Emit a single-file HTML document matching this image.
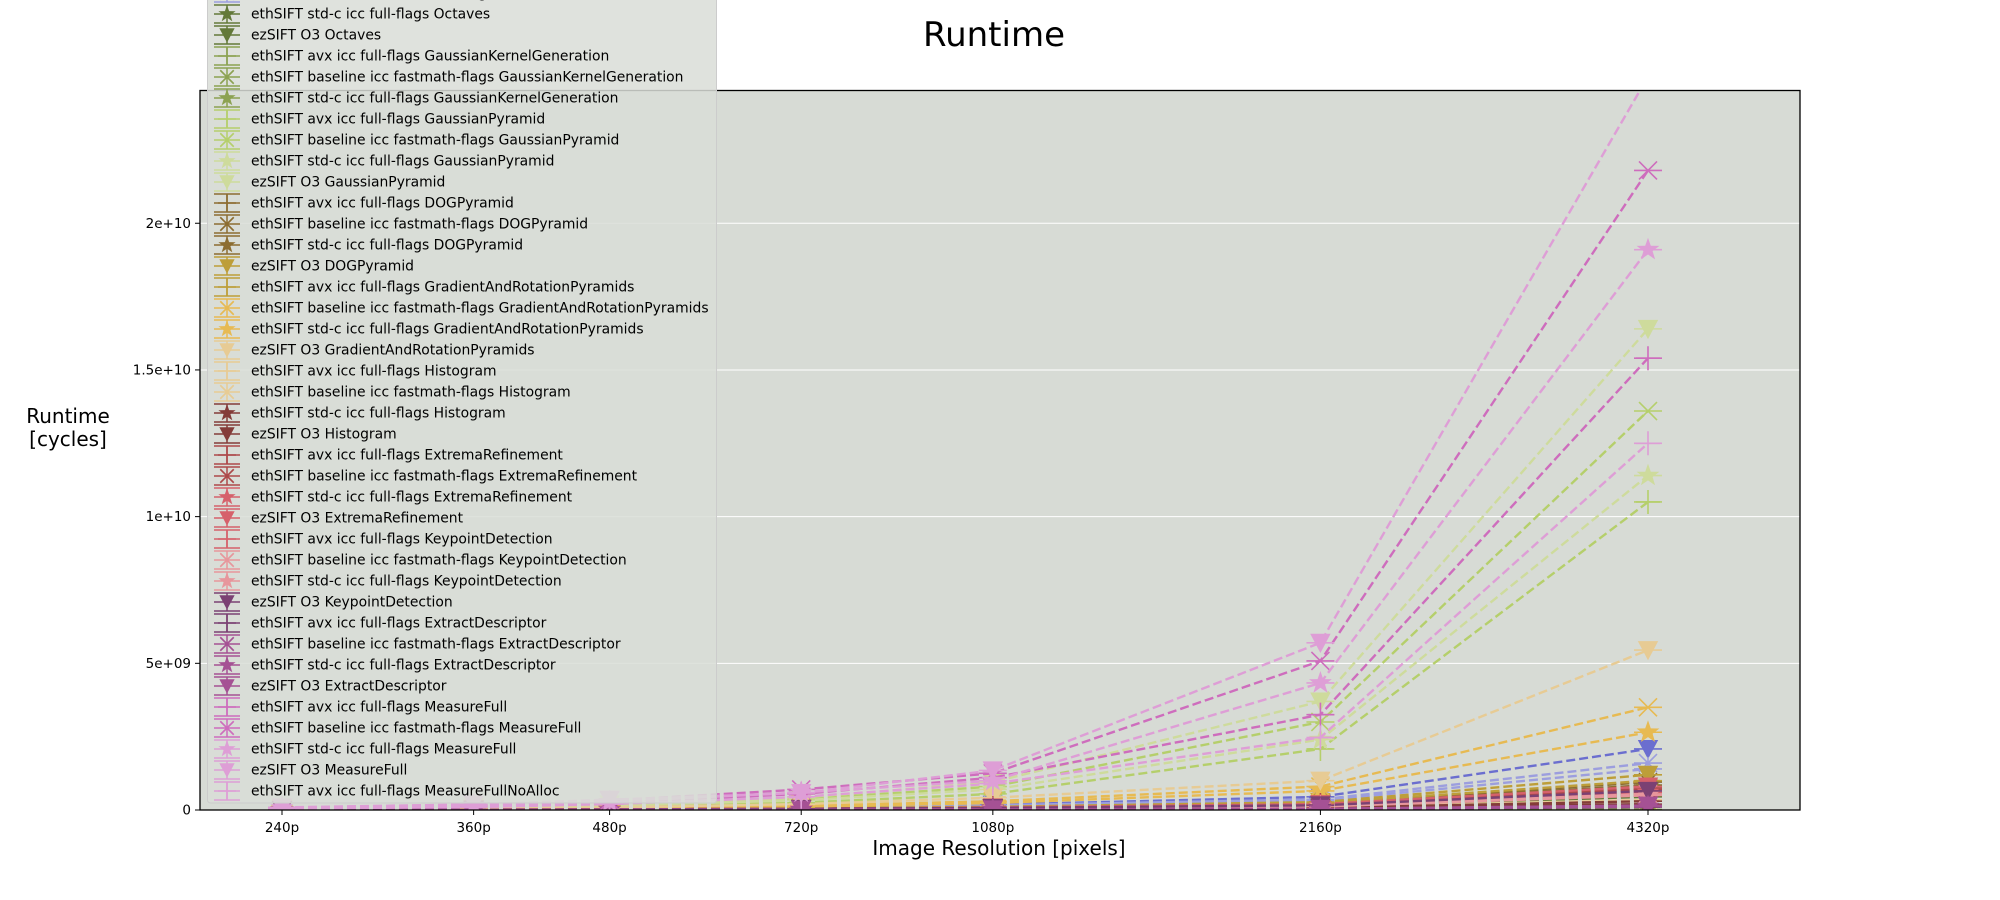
<!DOCTYPE html>
<html><head><meta charset="utf-8"><style>
body{margin:0;background:#fff;}
svg{display:block;font-family:"DejaVu Sans","Liberation Sans",sans-serif;}
</style></head><body>
<svg id="chart" width="2000" height="900" xmlns="http://www.w3.org/2000/svg">
<defs><clipPath id="plotclip"><rect x="200" y="90.5" width="1600" height="719.5"/></clipPath></defs>
<text x="994" y="46" font-size="34" text-anchor="middle" fill="#000">Runtime</text>
<rect x="200" y="90.5" width="1600" height="719.5" fill="#d7dbd5" stroke="none"/>
<g id="grid"></g>
<g id="series" clip-path="url(#plotclip)"></g>
<rect x="200" y="90.5" width="1600" height="719.5" fill="none" stroke="#000" stroke-width="1.3"/>
<g id="yticks"></g>
<g id="xticks"></g>
<text x="999" y="855" font-size="20" text-anchor="middle">Image Resolution [pixels]</text>
<text x="68" y="423" font-size="20" text-anchor="middle">Runtime</text>
<text x="68" y="446" font-size="20" text-anchor="middle">[cycles]</text>
<g id="legend"></g>
</svg>
<script>
const categories = [240, 360, 480, 720, 1080, 2160, 4320];
const categoryLabels = ["240p","360p","480p","720p","1080p","2160p","4320p"];
const yTicks = [0, 5e9, 1e10, 1.5e10, 2e10];
const yTickLabels = ["0","5e+09","1e+10","1.5e+10","2e+10"];
const seriesNames = [
"ezSIFT O3 Downscale",
"ethSIFT avx icc full-flags Octaves",
"ethSIFT baseline icc fastmath-flags Octaves",
"ethSIFT std-c icc full-flags Octaves",
"ezSIFT O3 Octaves",
"ethSIFT avx icc full-flags GaussianKernelGeneration",
"ethSIFT baseline icc fastmath-flags GaussianKernelGeneration",
"ethSIFT std-c icc full-flags GaussianKernelGeneration",
"ethSIFT avx icc full-flags GaussianPyramid",
"ethSIFT baseline icc fastmath-flags GaussianPyramid",
"ethSIFT std-c icc full-flags GaussianPyramid",
"ezSIFT O3 GaussianPyramid",
"ethSIFT avx icc full-flags DOGPyramid",
"ethSIFT baseline icc fastmath-flags DOGPyramid",
"ethSIFT std-c icc full-flags DOGPyramid",
"ezSIFT O3 DOGPyramid",
"ethSIFT avx icc full-flags GradientAndRotationPyramids",
"ethSIFT baseline icc fastmath-flags GradientAndRotationPyramids",
"ethSIFT std-c icc full-flags GradientAndRotationPyramids",
"ezSIFT O3 GradientAndRotationPyramids",
"ethSIFT avx icc full-flags Histogram",
"ethSIFT baseline icc fastmath-flags Histogram",
"ethSIFT std-c icc full-flags Histogram",
"ezSIFT O3 Histogram",
"ethSIFT avx icc full-flags ExtremaRefinement",
"ethSIFT baseline icc fastmath-flags ExtremaRefinement",
"ethSIFT std-c icc full-flags ExtremaRefinement",
"ezSIFT O3 ExtremaRefinement",
"ethSIFT avx icc full-flags KeypointDetection",
"ethSIFT baseline icc fastmath-flags KeypointDetection",
"ethSIFT std-c icc full-flags KeypointDetection",
"ezSIFT O3 KeypointDetection",
"ethSIFT avx icc full-flags ExtractDescriptor",
"ethSIFT baseline icc fastmath-flags ExtractDescriptor",
"ethSIFT std-c icc full-flags ExtractDescriptor",
"ezSIFT O3 ExtractDescriptor",
"ethSIFT avx icc full-flags MeasureFull",
"ethSIFT baseline icc fastmath-flags MeasureFull",
"ethSIFT std-c icc full-flags MeasureFull",
"ezSIFT O3 MeasureFull",
"ethSIFT avx icc full-flags MeasureFullNoAlloc"
];
const seriesColors = ["#6b6ecf","#9c9ede","#9c9ede","#637939","#637939","#8ca252","#8ca252","#8ca252",
"#b5cf6b","#b5cf6b","#cedb9c","#cedb9c","#8c6d31","#8c6d31","#8c6d31","#bd9e39",
"#bd9e39","#e7ba52","#e7ba52","#e7cb94","#e7cb94","#e7cb94","#843c39","#843c39",
"#ad494a","#ad494a","#d6616b","#d6616b","#d6616b","#e7969c","#e7969c","#7b4173",
"#7b4173","#a55194","#a55194","#a55194","#ce6dbd","#ce6dbd","#de9ed6","#de9ed6","#de9ed6"];
const seriesMarkers = ["v","+","x","*","v","+","x","*","+","x","*","v","+","x","*","v","+","x","*","v",
"+","x","*","v","+","x","*","v","+","x","*","v","+","x","*","v","+","x","*","v","+"];
// values in units of 1e9 cycles, per category
const v00 = [0.01,0.02,0.04,0.08,0.18,0.45,2.08];
const v01 = [0.01,0.02,0.03,0.07,0.14,0.32,1.40];
const v02 = [0.01,0.02,0.04,0.08,0.16,0.36,1.60];
const v03 = [0.00,0.01,0.01,0.03,0.06,0.12,0.45];
const v04 = [0.00,0.01,0.02,0.04,0.07,0.15,0.55];
const v05 = [0.00,0.00,0.00,0.00,0.00,0.00,0.01];
const v06 = [0.00,0.00,0.00,0.00,0.00,0.00,0.01];
const v07 = [0.00,0.00,0.00,0.00,0.00,0.00,0.01];
const v08 = [0.03,0.06,0.12,0.25,0.55,2.08,10.5];
const v09 = [0.04,0.09,0.16,0.36,0.80,3.00,13.6];
const v10 = [0.04,0.08,0.15,0.33,0.70,2.40,11.4];
const v11 = [0.05,0.10,0.19,0.42,0.95,3.70,16.4];
const v12 = [0.00,0.01,0.02,0.04,0.08,0.20,0.85];
const v13 = [0.00,0.01,0.02,0.05,0.09,0.22,0.95];
const v14 = [0.00,0.01,0.02,0.04,0.07,0.18,0.80];
const v15 = [0.01,0.01,0.03,0.06,0.11,0.27,1.20];
const v16 = [0.00,0.01,0.02,0.05,0.10,0.24,1.00];
const v17 = [0.02,0.04,0.06,0.14,0.30,0.80,3.50];
const v18 = [0.02,0.03,0.05,0.11,0.24,0.65,2.65];
const v19 = [0.03,0.05,0.09,0.20,0.42,1.00,5.45];
const v20 = [0.00,0.01,0.01,0.03,0.05,0.08,0.30];
const v21 = [0.00,0.01,0.01,0.03,0.06,0.09,0.35];
const v22 = [0.00,0.00,0.01,0.02,0.04,0.06,0.20];
const v23 = [0.00,0.01,0.01,0.03,0.05,0.08,0.30];
const v24 = [0.00,0.01,0.02,0.04,0.07,0.17,0.70];
const v25 = [0.00,0.01,0.02,0.04,0.08,0.18,0.75];
const v26 = [0.00,0.01,0.01,0.03,0.06,0.15,0.60];
const v27 = [0.01,0.01,0.02,0.04,0.09,0.20,0.80];
const v28 = [0.00,0.01,0.01,0.03,0.05,0.12,0.50];
const v29 = [0.00,0.01,0.01,0.03,0.06,0.13,0.55];
const v30 = [0.00,0.01,0.01,0.03,0.05,0.12,0.50];
const v31 = [0.00,0.01,0.02,0.04,0.07,0.16,0.65];
const v32 = [0.00,0.00,0.00,0.01,0.01,0.03,0.10];
const v33 = [0.00,0.00,0.00,0.01,0.02,0.04,0.15];
const v34 = [0.00,0.00,0.00,0.01,0.02,0.03,0.12];
const v35 = [0.00,0.00,0.01,0.01,0.02,0.04,0.15];
const v36 = [0.06,0.13,0.25,0.55,1.10,3.25,15.4];
const v37 = [0.08,0.17,0.32,0.70,1.25,5.08,21.8];
const v38 = [0.07,0.15,0.28,0.60,1.00,4.33,19.1];
const v39 = [0.09,0.19,0.35,0.58,1.35,5.70,25.0];
const v40 = [0.05,0.10,0.20,0.45,0.90,2.47,12.5];
const seriesValues = [v00,v01,v02,v03,v04,v05,v06,v07,v08,v09,v10,v11,v12,v13,v14,v15,v16,v17,v18,v19,v20,
v21,v22,v23,v24,v25,v26,v27,v28,v29,v30,v31,v32,v33,v34,v35,v36,v37,v38,v39,v40];

const NS = "http://www.w3.org/2000/svg";
const X0 = 200, X1 = 1800, Y0 = 810, YT = 90.5, YMAX = 2.4525e10;
const xLeft = 282, xRight = 1648;
function xScale(c){ return xLeft + (xRight - xLeft) * Math.log(c / categories[0]) / Math.log(categories[categories.length-1] / categories[0]); }
function yScale(v){ return Y0 - (Y0 - YT) * v / YMAX; }
function mk(tag, attrs, parent){ const e = document.createElementNS(NS, tag); for (const k in attrs) e.setAttribute(k, attrs[k]); parent.appendChild(e); return e; }

function drawMarker(g, m, cx, cy, s, color){
  if (m === "+") {
    mk("path", {d:`M${cx-s},${cy}H${cx+s}M${cx},${cy-s}V${cy+s}`, stroke:color, "stroke-width":1.6, fill:"none"}, g);
  } else if (m === "x") {
    const d = s*0.75;
    mk("path", {d:`M${cx-d},${cy-d}L${cx+d},${cy+d}M${cx-d},${cy+d}L${cx+d},${cy-d}`, stroke:color, "stroke-width":1.6, fill:"none"}, g);
  } else if (m === "*") {
    let pts = [];
    for (let k = 0; k < 10; k++) { const r = k % 2 ? s*0.4 : s; const a = -Math.PI/2 + k*Math.PI/5; pts.push((cx + r*Math.cos(a)).toFixed(1) + "," + (cy + r*Math.sin(a)).toFixed(1)); }
    mk("polygon", {points:pts.join(" "), fill:color}, g);
  } else {
    mk("polygon", {points:`${cx-s*0.85},${cy-s*0.75} ${cx+s*0.85},${cy-s*0.75} ${cx},${cy+s*0.85}`, fill:color}, g);
  }
}

const grid = document.getElementById("grid"), yt = document.getElementById("yticks"), xt = document.getElementById("xticks");
yTicks.forEach((t, i) => {
  const y = yScale(t);
  if (t > 0) {
    const gl = mk("line", {x1:X0, x2:X1, y1:y, y2:y, stroke:"#ffffff", "stroke-width":1}, grid);
    
    
  }
  mk("line", {x1:X0-5, x2:X0, y1:y, y2:y, stroke:"#000", "stroke-width":1}, yt);
  const tl = mk("text", {x:X0-9, y:y+4.5, "font-size":13.5, "text-anchor":"end"}, yt);
  tl.textContent = yTickLabels[i];
  
  
});
categories.forEach((c, i) => {
  const x = xScale(c);
  mk("line", {x1:x, x2:x, y1:Y0, y2:Y0+5, stroke:"#000", "stroke-width":1}, xt);
  const tl = mk("text", {x:x, y:Y0+22, "font-size":13.5, "text-anchor":"middle"}, xt);
  tl.textContent = categoryLabels[i];
  
  
});

const sg = document.getElementById("series");
seriesValues.forEach((vals, si) => {
  const col = seriesColors[si];
  const g = mk("g", {}, sg);
  
  
  const pts = vals.map((v, i) => xScale(categories[i]).toFixed(1) + "," + yScale(v*1e9).toFixed(1));
  mk("polyline", {points:pts.join(" "), fill:"none", stroke:col, "stroke-width":2.4, "stroke-dasharray":"9,4"}, g);
  vals.forEach((v, i) => {
    const cx = xScale(categories[i]), cy = yScale(v*1e9);
    const pg = mk("g", {}, g);
    
    
    mk("line", {x1:cx-14, x2:cx+14, y1:cy, y2:cy, stroke:col, "stroke-width":1.6}, pg);
    drawMarker(pg, seriesMarkers[si], cx, cy, 12, col);
  });
});

const lg = document.getElementById("legend");
const firstVisible = 3, step = 21.0, y0 = 14;
const topY = y0 + (0 - firstVisible) * step - 14;
mk("rect", {x:207.5, y:topY, width:509, height:803 - topY, fill:"#d9ddd7", "fill-opacity":0.85, stroke:"#cccccc", "stroke-width":1, rx:3}, lg);
seriesNames.forEach((nm, si) => {
  const y = y0 + (si - firstVisible) * step;
  const col = seriesColors[si];
  const e = mk("g", {}, lg);
  
  
  mk("path", {d:`M214,${y-9}H240M214,${y}H240M214,${y+9}H240M227,${y-9}V${y+9}`, stroke:col, "stroke-width":1.5, fill:"none"}, e);
  drawMarker(e, seriesMarkers[si], 227, y, 9, col);
  const t = mk("text", {x:251, y:y+4.5, "font-size":13.9}, e);
  t.textContent = nm;
});
</script>
</body></html>
